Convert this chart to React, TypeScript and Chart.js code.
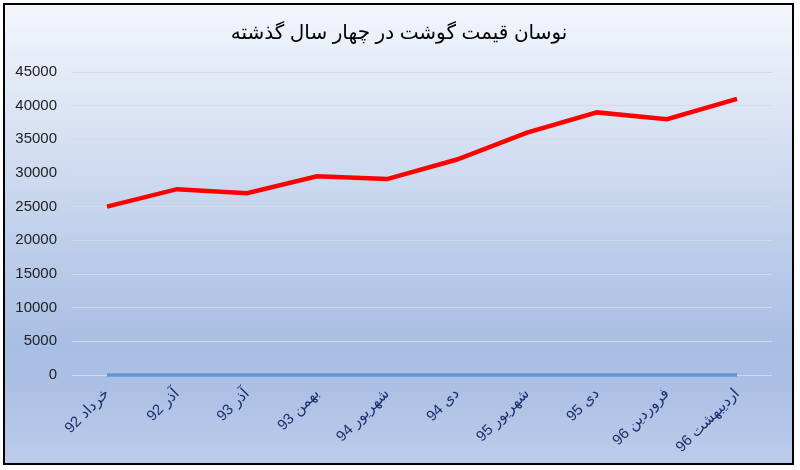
import React, { useEffect, useRef } from "react";
import { Chart, registerables } from "chart.js";

Chart.register(...registerables);

const titleText = "نوسان قیمت گوشت در چهار سال گذشته";
const categories = [
  "خرداد 92",
  "آذر 92",
  "آذر 93",
  "بهمن 93",
  "شهریور 94",
  "دی 94",
  "شهریور 95",
  "دی 95",
  "فروردین 96",
  "اردیبهشت 96",
];
const priceValues = [25000, 27600, 27000, 29500, 29100, 32000, 36000, 39000, 38000, 41000];
const zeroValues = [0, 0, 0, 0, 0, 0, 0, 0, 0, 0];
const yMax = 45000;
const yStep = 5000;

const FONT = "'Liberation Sans', 'DejaVu Sans', Arial, sans-serif";

const framePlugin = {
  id: "frame",
  beforeDraw(chart: any) {
    const { ctx, width, height } = chart;
    ctx.save();
    ctx.fillStyle = "#ffffff";
    ctx.fillRect(0, 0, width, height);
    const x0 = 4, y0 = 4, x1 = width - 7, y1 = height - 6;
    const g = ctx.createLinearGradient(0, y0, 0, y1);
    g.addColorStop(0, "#f3f6fc");
    g.addColorStop(0.74, "#a8bee3");
    g.addColorStop(0.83, "#abc0e4");
    g.addColorStop(1, "#bccdeb");
    ctx.fillStyle = g;
    ctx.fillRect(x0, y0, x1 - x0, y1 - y0);
    ctx.strokeStyle = "#000000";
    ctx.lineWidth = 2;
    ctx.strokeRect(x0, y0, x1 - x0, y1 - y0);
    ctx.restore();
  },
};

export default function App() {
  const ref = useRef<HTMLCanvasElement | null>(null);
  useEffect(() => {
    document.body.style.margin = "0";
    if (!ref.current) return;
    const chart = new Chart(ref.current, {
      type: "line",
      data: {
        labels: categories.map((c) => "\u2067" + c + "\u2069"),
        datasets: [
          {
            label: "zero",
            data: zeroValues,
            borderColor: "#5b9bd5",
            borderWidth: 3.5,
            pointRadius: 0,
            tension: 0,
            clip: false,
          },
          {
            label: "price",
            data: priceValues,
            borderColor: "#ff0000",
            borderWidth: 4.5,
            pointRadius: 0,
            tension: 0,
            clip: false,
          },
        ],
      },
      options: {
        responsive: false,
        animation: false,
        layout: { padding: { top: 72, right: 28, left: 0, bottom: 0 } },
        plugins: {
          legend: { display: false },
          tooltip: { enabled: false },
          title: { display: false },
        },
        scales: {
          x: {
            offset: true,
            grid: { display: false, drawTicks: false },
            border: { display: false },
            ticks: {
              color: "#1a2f6b",
              font: { family: FONT, size: 15 },
              minRotation: 45,
              maxRotation: 45,
              padding: 10,
              autoSkip: false,
            },
            afterFit: (s: any) => {
              s.height = 95;
            },
          },
          y: {
            min: 0,
            max: yMax,
            grid: { color: "#d4dae6", lineWidth: 1, drawTicks: false },
            border: { display: false },
            ticks: {
              stepSize: yStep,
              color: "#222222",
              font: { family: FONT, size: 15 },
              padding: 15,
              callback: (v: any) => String(v),
            },
            afterFit: (s: any) => {
              s.width = 72;
            },
          },
        },
      },
      plugins: [
        framePlugin,
        {
          id: "titleDraw",
          afterDraw(chart: any) {
            const { ctx } = chart;
            ctx.save();
            ctx.fillStyle = "#000000";
            ctx.font = `20px ${FONT}`;
            ctx.textAlign = "center";
            ctx.textBaseline = "middle";
            ctx.fillText(titleText, 399, 33);
            ctx.restore();
          },
        },
      ],
    } as any);
    return () => chart.destroy();
  }, []);
  return <canvas ref={ref} width={800} height={470} style={{ display: "block" }} />;
}
